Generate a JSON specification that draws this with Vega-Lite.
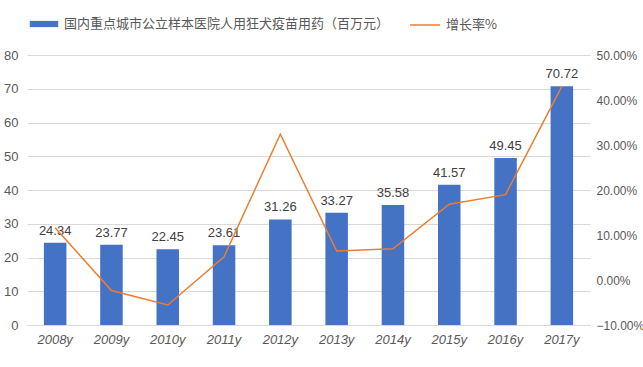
{
  "$schema": "https://vega.github.io/schema/vega-lite/v6.json",
  "width": 563,
  "height": 270,
  "autosize": {"type": "none"},
  "padding": {"left": 27, "top": 55, "right": 53, "bottom": 42},
  "background": "white",
  "config": {
    "view": {"stroke": null},
    "font": "Liberation Sans",
    "axis": {"labelFont": "Liberation Sans", "labelColor": "#595959", "labelFontSize": 13}
  },
  "data": {
    "values": [
      {"year": "2008y", "value": 24.34, "growth": 0.116},
      {"year": "2009y", "value": 23.77, "growth": -0.0234},
      {"year": "2010y", "value": 22.45, "growth": -0.0555},
      {"year": "2011y", "value": 23.61, "growth": 0.0517},
      {"year": "2012y", "value": 31.26, "growth": 0.324},
      {"year": "2013y", "value": 33.27, "growth": 0.0643},
      {"year": "2014y", "value": 35.58, "growth": 0.0694},
      {"year": "2015y", "value": 41.57, "growth": 0.1684},
      {"year": "2016y", "value": 49.45, "growth": 0.1896},
      {"year": "2017y", "value": 70.72, "growth": 0.4301}
    ]
  },
  "encoding": {
    "x": {
      "field": "year", "type": "ordinal", "sort": null,
      "scale": {"paddingInner": 0.6, "paddingOuter": 0.3},
      "axis": {"title": null, "labelAngle": 0, "labelFontStyle": "italic", "ticks": false, "domainColor": "#D9D9D9", "labelPadding": 8}
    }
  },
  "layer": [
    {
      "mark": {"type": "bar"},
      "encoding": {
        "y": {
          "field": "value", "type": "quantitative",
          "scale": {"domain": [0, 80]},
          "axis": {"title": null, "values": [0,10,20,30,40,50,60,70,80], "grid": true, "gridColor": "#D9D9D9", "domain": false, "ticks": false, "labelPadding": 9}
        },
        "fill": {
          "datum": "国内重点城市公立样本医院人用狂犬疫苗用药（百万元）",
          "scale": {"range": ["#4472C4"]},
          "legend": {
            "title": null, "orient": "none", "legendX": 2, "legendY": -46,
            "symbolType": "M-1,-0.22H1V0.22H-1Z", "symbolSize": 800, "labelOffset": 5, "labelLimit": 500,
            "labelFontSize": 13, "labelColor": "#595959", "labelFont": "Noto Sans CJK SC"
          }
        }
      }
    },
    {
      "mark": {"type": "text", "dy": -12, "fontSize": 13, "color": "#404040"},
      "encoding": {
        "y": {"field": "value", "type": "quantitative", "scale": {"domain": [0, 80]}, "axis": null},
        "text": {"field": "value", "type": "quantitative", "format": ".2f"}
      }
    },
    {
      "mark": {"type": "line", "strokeWidth": 1.5},
      "encoding": {
        "y": {
          "field": "growth", "type": "quantitative",
          "scale": {"domain": [-0.1, 0.5]},
          "axis": {"title": null, "orient": "right", "format": ".2%", "values": [-0.1,0,0.1,0.2,0.3,0.4,0.5], "grid": false, "domain": false, "ticks": false, "labelPadding": 6, "labelFontSize": 12}
        },
        "stroke": {
          "datum": "增长率%",
          "scale": {"range": ["#ED7D31"]},
          "legend": {
            "title": null, "orient": "none", "legendX": 382, "legendY": -46,
            "symbolType": "stroke", "symbolSize": 900, "symbolStrokeWidth": 1.5, "labelOffset": 5,
            "labelFontSize": 13, "labelColor": "#595959", "labelFont": "Noto Sans CJK SC"
          }
        }
      }
    }
  ],
  "resolve": {"scale": {"y": "independent"}}
}
